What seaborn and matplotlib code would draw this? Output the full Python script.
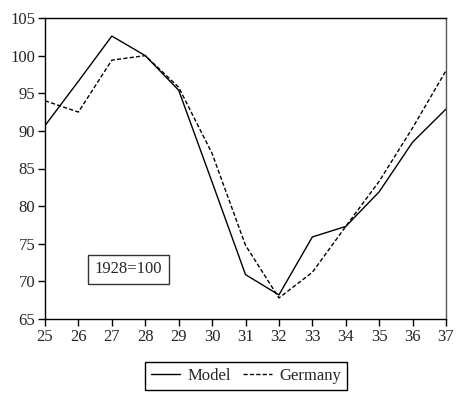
import matplotlib
matplotlib.use("Agg")
import matplotlib.pyplot as plt
import seaborn as sns
import pandas as pd

years = [25, 26, 27, 28, 29, 30, 31, 32, 33, 34, 35, 36, 37]
model = [90.7, 96.6, 102.6, 100.0, 95.4, 83.2, 70.9, 68.2, 75.9, 77.3, 81.9, 88.5, 92.9]
germany = [94.0, 92.5, 99.4, 100.0, 95.8, 87.0, 74.8, 67.8, 71.2, 77.3, 83.3, 90.4, 98.0]
series_names = ["Model", "Germany"]
note = "1928=100"

sns.set_style("white")
plt.rcParams["font.family"] = ["Liberation Serif", "DejaVu Serif"]

df = pd.DataFrame({
    "year": years * 2,
    "value": model + germany,
    "series": [series_names[0]] * len(years) + [series_names[1]] * len(years),
})

fig = plt.figure(figsize=(4.58, 3.94), dpi=100)
ax = fig.add_axes([45 / 458, 1 - 319 / 394, (446 - 45) / 458, (319 - 18) / 394])

sns.lineplot(data=df, x="year", y="value", style="series", color="black",
             dashes={"Model": "", "Germany": (3, 1.6)}, linewidth=1.0, ax=ax, legend=True)

ax.set_xlim(25, 37)
ax.set_ylim(65, 105)
ax.set_xticks(years)
ax.set_yticks(range(65, 106, 5))
ax.set_xlabel("")
ax.set_ylabel("")
ax.tick_params(direction="out", length=5, width=1, color="black", labelsize=12, pad=2,
               bottom=True, left=True)
for s in ax.spines.values():
    s.set_color("black")
    s.set_linewidth(1.0)
ax.spines["right"].set_color("#555555")

ax.text(27.5, 71.6, note, ha="center", va="center", fontsize=12,
        bbox=dict(boxstyle="square,pad=0.4", facecolor="white", edgecolor="#333333", linewidth=1))

handles, labels = ax.get_legend_handles_labels()
ax.legend(handles, labels, loc="center", bbox_to_anchor=(246 / 458, 1 - 376 / 394),
          bbox_transform=fig.transFigure, ncol=2, frameon=True, fancybox=False,
          edgecolor="black", fontsize=12, handlelength=1.75, columnspacing=0.75,
          handletextpad=0.4, borderpad=0.35, framealpha=1)
ax.get_legend().get_frame().set_linewidth(1.0)

fig.savefig("out.png", dpi=100)
